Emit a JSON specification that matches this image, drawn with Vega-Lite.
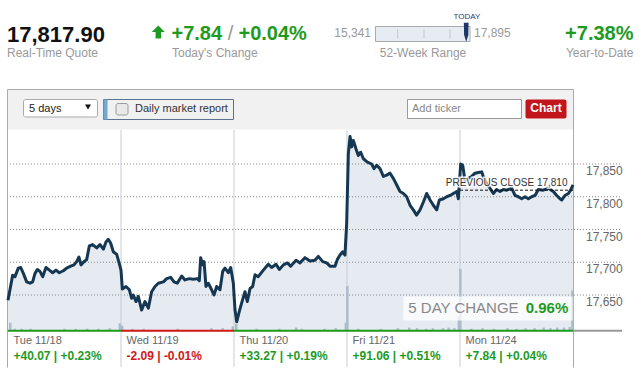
{
  "$schema": "https://vega.github.io/schema/vega-lite/v6.json",
  "width": 642,
  "height": 379,
  "autosize": "none",
  "padding": 0,
  "background": "white",
  "config": {"font": "Liberation Sans", "view": {"stroke": null}, "axis": {"disable": true}, "text": {"font": "Liberation Sans"}},
  "data": {"values": [{}]},
  "datasets": {
    "price": [
      {"t":0.0,"v":17642},{"t":0.041,"v":17680},{"t":0.062,"v":17678},{"t":0.091,"v":17691},{"t":0.112,"v":17692},{"t":0.136,"v":17683},{"t":0.165,"v":17670},{"t":0.195,"v":17668},{"t":0.218,"v":17670},{"t":0.239,"v":17683},{"t":0.26,"v":17689},{"t":0.283,"v":17686},{"t":0.307,"v":17678},{"t":0.336,"v":17692},{"t":0.366,"v":17688},{"t":0.395,"v":17684},{"t":0.425,"v":17688},{"t":0.454,"v":17684},{"t":0.49,"v":17687},{"t":0.519,"v":17691},{"t":0.555,"v":17694},{"t":0.584,"v":17696},{"t":0.608,"v":17701},{"t":0.628,"v":17708},{"t":0.646,"v":17696},{"t":0.667,"v":17700},{"t":0.696,"v":17704},{"t":0.72,"v":17725},{"t":0.749,"v":17727},{"t":0.785,"v":17722},{"t":0.814,"v":17727},{"t":0.844,"v":17720},{"t":0.867,"v":17731},{"t":0.888,"v":17735},{"t":0.909,"v":17729},{"t":0.932,"v":17716},{"t":0.962,"v":17712},{"t":0.985,"v":17698},{"t":1.0,"v":17688},{"t":1.012,"v":17659},{"t":1.044,"v":17663},{"t":1.074,"v":17658},{"t":1.094,"v":17645},{"t":1.109,"v":17650},{"t":1.133,"v":17640},{"t":1.153,"v":17648},{"t":1.183,"v":17627},{"t":1.212,"v":17640},{"t":1.242,"v":17630},{"t":1.271,"v":17655},{"t":1.301,"v":17663},{"t":1.33,"v":17668},{"t":1.375,"v":17670},{"t":1.404,"v":17675},{"t":1.44,"v":17677},{"t":1.469,"v":17670},{"t":1.498,"v":17668},{"t":1.537,"v":17679},{"t":1.566,"v":17673},{"t":1.605,"v":17675},{"t":1.64,"v":17674},{"t":1.675,"v":17675},{"t":1.693,"v":17672},{"t":1.705,"v":17707},{"t":1.723,"v":17696},{"t":1.735,"v":17701},{"t":1.752,"v":17663},{"t":1.773,"v":17668},{"t":1.802,"v":17658},{"t":1.823,"v":17650},{"t":1.847,"v":17663},{"t":1.876,"v":17658},{"t":1.9,"v":17686},{"t":1.92,"v":17691},{"t":1.95,"v":17684},{"t":1.971,"v":17692},{"t":1.994,"v":17668},{"t":2.009,"v":17627},{"t":2.024,"v":17609},{"t":2.047,"v":17625},{"t":2.068,"v":17638},{"t":2.097,"v":17655},{"t":2.118,"v":17640},{"t":2.142,"v":17660},{"t":2.165,"v":17663},{"t":2.186,"v":17681},{"t":2.215,"v":17678},{"t":2.26,"v":17688},{"t":2.304,"v":17697},{"t":2.333,"v":17692},{"t":2.372,"v":17697},{"t":2.401,"v":17689},{"t":2.437,"v":17696},{"t":2.472,"v":17699},{"t":2.501,"v":17694},{"t":2.549,"v":17703},{"t":2.584,"v":17699},{"t":2.628,"v":17707},{"t":2.673,"v":17702},{"t":2.717,"v":17703},{"t":2.746,"v":17709},{"t":2.785,"v":17701},{"t":2.82,"v":17699},{"t":2.85,"v":17694},{"t":2.894,"v":17694},{"t":2.914,"v":17704},{"t":2.938,"v":17711},{"t":2.962,"v":17716},{"t":2.982,"v":17711},{"t":2.997,"v":17759},{"t":3.012,"v":17866},{"t":3.027,"v":17892},{"t":3.041,"v":17876},{"t":3.056,"v":17886},{"t":3.08,"v":17873},{"t":3.1,"v":17863},{"t":3.121,"v":17868},{"t":3.145,"v":17858},{"t":3.18,"v":17853},{"t":3.218,"v":17850},{"t":3.239,"v":17843},{"t":3.263,"v":17848},{"t":3.292,"v":17843},{"t":3.322,"v":17831},{"t":3.351,"v":17833},{"t":3.381,"v":17836},{"t":3.41,"v":17828},{"t":3.44,"v":17818},{"t":3.469,"v":17808},{"t":3.499,"v":17805},{"t":3.528,"v":17800},{"t":3.558,"v":17787},{"t":3.587,"v":17780},{"t":3.616,"v":17772},{"t":3.646,"v":17780},{"t":3.676,"v":17792},{"t":3.705,"v":17805},{"t":3.735,"v":17795},{"t":3.764,"v":17787},{"t":3.794,"v":17780},{"t":3.817,"v":17795},{"t":3.853,"v":17797},{"t":3.882,"v":17800},{"t":3.912,"v":17802},{"t":3.941,"v":17805},{"t":3.971,"v":17808},{"t":3.985,"v":17797},{"t":4.006,"v":17850},{"t":4.024,"v":17848},{"t":4.044,"v":17825},{"t":4.074,"v":17828},{"t":4.103,"v":17831},{"t":4.133,"v":17836},{"t":4.162,"v":17837},{"t":4.192,"v":17838},{"t":4.212,"v":17828},{"t":4.236,"v":17820},{"t":4.265,"v":17813},{"t":4.295,"v":17805},{"t":4.324,"v":17811},{"t":4.354,"v":17808},{"t":4.384,"v":17811},{"t":4.413,"v":17810},{"t":4.457,"v":17813},{"t":4.487,"v":17802},{"t":4.516,"v":17800},{"t":4.546,"v":17797},{"t":4.575,"v":17800},{"t":4.605,"v":17797},{"t":4.634,"v":17800},{"t":4.664,"v":17802},{"t":4.693,"v":17811},{"t":4.737,"v":17810},{"t":4.782,"v":17813},{"t":4.826,"v":17808},{"t":4.856,"v":17802},{"t":4.885,"v":17797},{"t":4.9,"v":17795},{"t":4.929,"v":17802},{"t":4.959,"v":17805},{"t":4.979,"v":17810},{"t":5.0,"v":17818}
    ],
    "volume": [
      {"t":0.02,"vol":12},{"t":0.99,"vol":11},{"t":1.01,"vol":7},{"t":1.99,"vol":6},{"t":2.02,"vol":10},{"t":2.99,"vol":12},{"t":3.003,"vol":72},{"t":3.99,"vol":22},{"t":4.003,"vol":100},{"t":4.995,"vol":65},
      {"t":0.06,"vol":2},{"t":0.12,"vol":2},{"t":0.2,"vol":2},{"t":0.5,"vol":2},{"t":0.6,"vol":2},{"t":0.7,"vol":2},{"t":0.8,"vol":2},{"t":0.9,"vol":3},{"t":1.1,"vol":2},{"t":1.2,"vol":2},{"t":1.5,"vol":2},{"t":1.8,"vol":3},{"t":1.9,"vol":3},{"t":2.2,"vol":2},{"t":2.4,"vol":2},{"t":2.55,"vol":4},{"t":2.6,"vol":2},{"t":2.8,"vol":2},{"t":2.9,"vol":3},{"t":3.1,"vol":2},{"t":3.3,"vol":2},{"t":3.45,"vol":3},{"t":3.55,"vol":4},{"t":3.62,"vol":3},{"t":3.7,"vol":2},{"t":3.76,"vol":3},{"t":3.85,"vol":3},{"t":3.9,"vol":4},{"t":3.95,"vol":3},{"t":4.1,"vol":2},{"t":4.2,"vol":3},{"t":4.3,"vol":2},{"t":4.42,"vol":3},{"t":4.5,"vol":2},{"t":4.58,"vol":3},{"t":4.66,"vol":3},{"t":4.74,"vol":4},{"t":4.8,"vol":3},{"t":4.86,"vol":4},{"t":4.92,"vol":4},{"t":4.97,"vol":5}
    ],
    "days": [
      {"day":"Tue 11/18","t":0,"t_end":1,"change":"+40.07 | +0.23%","dir":"up"},
      {"day":"Wed 11/19","t":1,"t_end":2,"change":"-2.09 | -0.01%","dir":"down"},
      {"day":"Thu 11/20","t":2,"t_end":3,"change":"+33.27 | +0.19%","dir":"up"},
      {"day":"Fri 11/21","t":3,"t_end":4,"change":"+91.06 | +0.51%","dir":"up"},
      {"day":"Mon 11/24","t":4,"t_end":5,"change":"+7.84 | +0.04%","dir":"up"}
    ],
    "ticks": [{"v":17650},{"v":17700},{"v":17750},{"v":17800},{"v":17850}]
  },
  "layer": [
    {
      "layer": [
        {"mark": {"type":"rect","fill":"#f1f1f1"},
         "encoding": {"x":{"datum":0,"type":"quantitative","scale":{"domain":[-0.070796,5.610619],"nice":false,"zero":false},"axis":null},"x2":{"datum":5},
                      "y":{"datum":17962.98,"type":"quantitative","scale":{"domain":[17521.76,18100.38],"nice":false,"zero":false},"axis":null},"y2":{"datum":17902.67}}},
        {"mark": {"type":"rule","stroke":"#aaaaaa","strokeWidth":1},
         "encoding": {"x":{"datum":-0.00442},"x2":{"datum":5.00442},"y":{"datum":17963.74}}},
        {"mark": {"type":"rule","stroke":"#aaaaaa","strokeWidth":1},
         "encoding": {"x":{"datum":-0.00442},"y":{"datum":17963.74},"y2":{"datum":17539.31}}},
        {"mark": {"type":"rule","stroke":"#aaaaaa","strokeWidth":1},
         "encoding": {"x":{"datum":5.00442},"y":{"datum":17963.74},"y2":{"datum":17539.31}}},

        {"mark": {"type":"text","text":"17,817.90","align":"left","baseline":"alphabetic","fontSize":22,"fontWeight":"bold","fill":"#111111"},
         "encoding": {"x":{"datum":-0.00885},"y":{"datum":18037.02}}},
        {"mark": {"type":"text","text":"Real-Time Quote","align":"left","baseline":"alphabetic","fontSize":12,"fill":"#999999"},
         "encoding": {"x":{"datum":-0.00885},"y":{"datum":18012.6}}},
        {"mark": {"type":"point","shape":"M0,-1L1,0L0.42,0L0.42,1L-0.42,1L-0.42,0L-1,0Z","size":169,"filled":true,"fill":"#1e9b1e","opacity":1,"strokeWidth":0},
         "encoding": {"x":{"datum":1.3301},"y":{"datum":18051.53}}},
        {"mark": {"type":"text","text":"+7.84","align":"left","baseline":"alphabetic","fontSize":20,"fontWeight":"bold","fill":"#1e9b1e"},
         "encoding": {"x":{"datum":1.4469},"y":{"datum":18038.55}}},
        {"mark": {"type":"text","text":"/","align":"center","baseline":"alphabetic","fontSize":20,"fill":"#999999"},
         "encoding": {"x":{"datum":1.969},"y":{"datum":18038.55}}},
        {"mark": {"type":"text","text":"+0.04%","align":"left","baseline":"alphabetic","fontSize":20,"fontWeight":"bold","fill":"#1e9b1e"},
         "encoding": {"x":{"datum":2.0398},"y":{"datum":18038.55}}},
        {"mark": {"type":"text","text":"Today's Change","align":"left","baseline":"alphabetic","fontSize":12,"fill":"#999999"},
         "encoding": {"x":{"datum":1.4513},"y":{"datum":18012.6}}},
        {"mark": {"type":"text","text":"15,341","align":"right","baseline":"alphabetic","fontSize":12,"fill":"#999999"},
         "encoding": {"x":{"datum":3.2124},"y":{"datum":18043.89}}},
        {"mark": {"type":"rect","fill":"#e7ecf2","stroke":"#aaaaaa","strokeWidth":1},
         "encoding": {"x":{"datum":3.2522},"x2":{"datum":4.0885},"y":{"datum":18059.92},"y2":{"datum":18037.02}}},
        {"mark": {"type":"rule","stroke":"#c2cac2","strokeWidth":1},
         "encoding": {"x":{"datum":3.4487},"y":{"datum":18056.11},"y2":{"datum":18041.6}}},
        {"mark": {"type":"rule","stroke":"#c2cac2","strokeWidth":1},
         "encoding": {"x":{"datum":3.6814},"y":{"datum":18056.11},"y2":{"datum":18041.6}}},
        {"mark": {"type":"rule","stroke":"#c2cac2","strokeWidth":1},
         "encoding": {"x":{"datum":3.9115},"y":{"datum":18056.11},"y2":{"datum":18041.6}}},
        {"mark": {"type":"point","shape":"M-0.25,-1L0.25,-1L0.22,0.3L0,1L-0.22,0.3Z","size":361,"filled":true,"fill":"#1c3766","opacity":1,"strokeWidth":0},
         "encoding": {"x":{"datum":4.0549},"y":{"datum":18051.22}}},
        {"mark": {"type":"text","text":"TODAY","align":"center","baseline":"alphabetic","fontSize":8,"fill":"#2a3a6a"},
         "encoding": {"x":{"datum":4.0619},"y":{"datum":18071.37}}},
        {"mark": {"type":"text","text":"17,895","align":"left","baseline":"alphabetic","fontSize":12,"fill":"#999999"},
         "encoding": {"x":{"datum":4.1239},"y":{"datum":18043.89}}},
        {"mark": {"type":"text","text":"52-Week Range","align":"center","baseline":"alphabetic","fontSize":12,"fill":"#999999"},
         "encoding": {"x":{"datum":3.6726},"y":{"datum":18012.6}}},
        {"mark": {"type":"text","text":"+7.38%","align":"right","baseline":"alphabetic","fontSize":20,"fontWeight":"bold","fill":"#1e9b1e"},
         "encoding": {"x":{"datum":5.5354},"y":{"datum":18038.55}}},
        {"mark": {"type":"text","text":"Year-to-Date","align":"right","baseline":"alphabetic","fontSize":12,"fill":"#999999"},
         "encoding": {"x":{"datum":5.5354},"y":{"datum":18012.6}}},

        {"mark": {"type":"rect","fill":"white","stroke":"#aaaaaa","strokeWidth":1,"cornerRadius":2},
         "encoding": {"x":{"datum":0.1372},"x2":{"datum":0.792},"y":{"datum":17948.47},"y2":{"datum":17921.76}}},
        {"mark": {"type":"text","text":"5 days","align":"left","baseline":"alphabetic","fontSize":11,"fill":"#222222"},
         "encoding": {"x":{"datum":0.1858},"y":{"datum":17929.39}}},
        {"mark": {"type":"point","shape":"triangle-down","size":36,"filled":true,"fill":"#111111","opacity":1,"strokeWidth":0},
         "encoding": {"x":{"datum":0.708},"y":{"datum":17937.02}}},
        {"mark": {"type":"rect","fill":"#f1f1f1","stroke":"#5b7190","strokeWidth":1},
         "encoding": {"x":{"datum":0.8451},"x2":{"datum":1.9956},"y":{"datum":17948.47},"y2":{"datum":17917.94}}},
        {"mark": {"type":"rect","fill":"#70a9d2"},
         "encoding": {"x":{"datum":0.8451},"x2":{"datum":0.8805},"y":{"datum":17948.47},"y2":{"datum":17917.94}}},
        {"mark": {"type":"rect","fill":"#e9e9e9","stroke":"#9a9a9a","strokeWidth":1,"cornerRadius":2},
         "encoding": {"x":{"datum":0.9558},"x2":{"datum":1.0619},"y":{"datum":17942.37},"y2":{"datum":17924.81}}},
        {"mark": {"type":"text","text":"Daily market report","align":"left","baseline":"alphabetic","fontSize":11,"fill":"#333333"},
         "encoding": {"x":{"datum":1.1239},"y":{"datum":17928.63}}},
        {"mark": {"type":"rect","fill":"white","stroke":"#999999","strokeWidth":1},
         "encoding": {"x":{"datum":3.5354},"x2":{"datum":4.5442},"y":{"datum":17948.47},"y2":{"datum":17919.47}}},
        {"mark": {"type":"text","text":"Add ticker","align":"left","baseline":"alphabetic","fontSize":11,"fill":"#888888"},
         "encoding": {"x":{"datum":3.5752},"y":{"datum":17928.63}}},
        {"mark": {"type":"rect","fill":"#c3161c","cornerRadius":2},
         "encoding": {"x":{"datum":4.5796},"x2":{"datum":4.9425},"y":{"datum":17948.47},"y2":{"datum":17919.47}}},
        {"mark": {"type":"text","text":"Chart","align":"center","baseline":"alphabetic","fontSize":12,"fontWeight":"bold","fill":"white"},
         "encoding": {"x":{"datum":4.7611},"y":{"datum":17928.63}}},

        {"data": {"name":"price"},
         "mark": {"type":"area","fill":"#e6ebf2","opacity":1},
         "encoding": {"x":{"field":"t","type":"quantitative"},"y":{"field":"v","type":"quantitative"},"y2":{"datum":17596.56}}},
        {"data": {"name":"ticks"},
         "mark": {"type":"rule","stroke":"#8a8a8a","strokeWidth":1,"strokeDash":[1,2]},
         "encoding": {"x":{"datum":0.0177},"x2":{"datum":5.4336},"y":{"field":"v","type":"quantitative"}}},
        {"data": {"name":"days"},
         "transform": [{"filter":"datum.t > 0"}],
         "mark": {"type":"rule","stroke":"#c6cdd5","strokeWidth":1},
         "encoding": {"x":{"field":"t","type":"quantitative"},"y":{"datum":17901.91},"y2":{"datum":17540.08}}}
      ]
    },
    {
      "data": {"name":"volume"},
      "mark": {"type":"rule","stroke":"#adbccb","strokeWidth":2.5},
      "encoding": {
        "x":{"field":"t","type":"quantitative"},
        "y":{"field":"vol","type":"quantitative","scale":{"domain":[-80.33,541],"nice":false,"zero":false},"axis":null},
        "y2":{"datum":0}
      }
    },
    {
      "layer": [
        {"data": {"name":"price"},
         "mark": {"type":"line","stroke":"#163752","strokeWidth":3,"strokeJoin":"round"},
         "encoding": {"x":{"field":"t","type":"quantitative"},"y":{"field":"v","type":"quantitative","scale":{"domain":[17521.76,18100.38],"nice":false,"zero":false},"axis":null}}},
        {"mark": {"type":"rule","stroke":"#111111","strokeWidth":1,"strokeDash":[3,2]},
         "encoding": {"x":{"datum":4},"x2":{"datum":5},"y":{"datum":17810}}},
        {"mark": {"type":"text","text":"PREVIOUS CLOSE 17,810","align":"right","baseline":"alphabetic","fontSize":10,"fill":"white","stroke":"white","strokeWidth":3,"strokeOpacity":0.8},
         "encoding": {"x":{"datum":4.9513},"y":{"datum":17816.41}}},
        {"mark": {"type":"text","text":"PREVIOUS CLOSE 17,810","align":"right","baseline":"alphabetic","fontSize":10,"fill":"#333333"},
         "encoding": {"x":{"datum":4.9513},"y":{"datum":17816.41}}},
        {"mark": {"type":"rect","fill":"white","opacity":0.75},
         "encoding": {"x":{"datum":3.4982},"x2":{"datum":4.9973},"y":{"datum":17647.71},"y2":{"datum":17611.07}}},
        {"mark": {"type":"text","text":"5 DAY CHANGE","align":"left","baseline":"alphabetic","fontSize":15,"fill":"#888888"},
         "encoding": {"x":{"datum":3.5425},"y":{"datum":17622.98}}},
        {"mark": {"type":"text","text":"0.96%","align":"right","baseline":"alphabetic","fontSize":15,"fontWeight":"bold","fill":"#1e9b1e"},
         "encoding": {"x":{"datum":4.9584},"y":{"datum":17622.98}}},
        {"data": {"name":"ticks"},
         "mark": {"type":"text","align":"left","baseline":"alphabetic","fontSize":12,"fill":"#666666","dy":11},
         "encoding": {"x":{"datum":5.115},"y":{"field":"v","type":"quantitative"},"text":{"field":"v","type":"quantitative","format":","}}},
        {"mark": {"type":"rule","stroke":"#999999","strokeWidth":2},
         "encoding": {"x":{"datum":5.0},"x2":{"datum":5.4336},"y":{"datum":17595.5}}},
        {"data": {"name":"days"},
         "mark": {"type":"rule","strokeWidth":2},
         "encoding": {"x":{"field":"t","type":"quantitative"},"x2":{"field":"t_end"},"y":{"datum":17595.5},
                      "stroke":{"field":"dir","type":"nominal","scale":{"domain":["up","down"],"range":["#1e9b1e","#d01818"]},"legend":null}}},
        {"data": {"name":"days"},
         "mark": {"type":"text","align":"left","baseline":"alphabetic","fontSize":11,"fill":"#666666","dx":5.5},
         "encoding": {"x":{"field":"t","type":"quantitative"},"y":{"datum":17575.19},"text":{"field":"day"}}},
        {"data": {"name":"days"},
         "mark": {"type":"text","align":"left","baseline":"alphabetic","fontSize":12,"fontWeight":"bold","dx":5.5},
         "encoding": {"x":{"field":"t","type":"quantitative"},"y":{"datum":17551.53},"text":{"field":"change"},
                      "fill":{"field":"dir","type":"nominal","scale":{"domain":["up","down"],"range":["#1e9b1e","#d01818"]},"legend":null}}}
      ]
    }
  ],
  "resolve": {"scale": {"y": "independent"}}
}
